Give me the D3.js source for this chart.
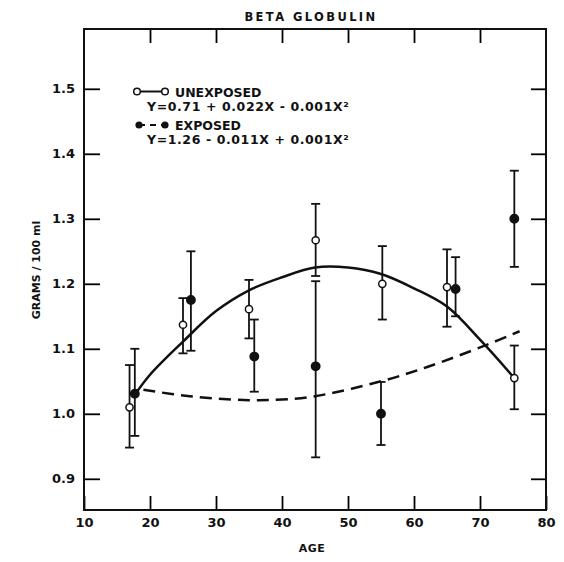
<!DOCTYPE html>
<html>
<head>
<meta charset="utf-8">
<script src="https://cdn.jsdelivr.net/npm/d3@7"></script>
<style>
  body { margin: 0; background: #fff; }
  svg text { font-family: "DejaVu Sans", sans-serif; font-weight: bold; fill: #111; }
</style>
</head>
<body>
<svg id="chart"></svg>
<script>
// Chart size and the plot box

const width = 564;
const height = 562;
const margin = { top: 29, right: 18, bottom: 52, left: 84 };

// Tick values

const xTicks = [10, 20, 30, 40, 50, 60, 70, 80];
const yTicks = [0.9, 1.0, 1.1, 1.2, 1.3, 1.4, 1.5];

// Unexposed group: age, mean, error bar ends

const ageUnexposed = [16.9, 25.0, 35.0, 45.1, 55.2, 65.0, 75.2];
const meanUnexposed = [1.010, 1.137, 1.161, 1.267, 1.200, 1.195, 1.055];
const hiUnexposed = [1.075, 1.178, 1.206, 1.323, 1.258, 1.253, 1.105];
const loUnexposed = [0.948, 1.093, 1.116, 1.212, 1.145, 1.134, 1.007];

// Exposed group

const ageExposed = [17.7, 26.2, 35.8, 45.1, 55.0, 66.3, 75.2];
const meanExposed = [1.031, 1.175, 1.088, 1.073, 1.000, 1.192, 1.300];
const hiExposed = [1.100, 1.250, 1.145, 1.204, 1.049, 1.241, 1.374];
const loExposed = [0.966, 1.097, 1.034, 0.933, 0.952, 1.150, 1.226];

// Fitted curves as drawn

const fitAgeUnexposed = [17.4, 20, 25, 30, 35, 40, 45, 50, 55, 60, 65, 70, 75.2];
const fitUnexposed = [1.025, 1.060, 1.111, 1.158, 1.190, 1.210, 1.225, 1.225, 1.215, 1.193, 1.165, 1.114, 1.055];

const fitAgeExposed = [19, 26, 35, 40, 45, 55, 62, 71, 76];
const fitExposed = [1.037, 1.027, 1.021, 1.022, 1.027, 1.050, 1.072, 1.106, 1.127];

// Scales

const x = d3.scaleLinear().domain([10, 80]).range([margin.left, width - margin.right]);
const y = d3.scaleLinear().domain([0.852, 1.592]).range([height - margin.bottom, margin.top]);

const svg = d3.select("#chart")
  .attr("width", width)
  .attr("height", height);

// Axes (ticks point inward)

svg.append("g")
  .attr("transform", "translate(0," + (height - margin.bottom) + ")")
  .call(d3.axisBottom(x).tickValues(xTicks).tickSize(-14).tickPadding(8).tickFormat(d3.format("d")))
  .call(g => g.select(".domain").remove())
  .call(g => g.selectAll("line").attr("stroke-width", 1.8))
  .call(g => g.selectAll("text").style("font-size", "13px"));

svg.append("g")
  .attr("transform", "translate(0," + margin.top + ")")
  .call(d3.axisTop(x).tickValues(xTicks.slice(1, -1)).tickSize(-14).tickFormat(""))
  .call(g => g.select(".domain").remove())
  .call(g => g.selectAll("line").attr("stroke-width", 1.8));

svg.append("g")
  .attr("transform", "translate(" + margin.left + ",0)")
  .call(d3.axisLeft(y).tickValues(yTicks).tickSize(-16).tickPadding(9).tickFormat(d3.format(".1f")))
  .call(g => g.select(".domain").remove())
  .call(g => g.selectAll("line").attr("stroke-width", 1.8))
  .call(g => g.selectAll("text").style("font-size", "13px"));

svg.append("g")
  .attr("transform", "translate(" + (width - margin.right) + ",0)")
  .call(d3.axisRight(y).tickValues(yTicks).tickSize(-15).tickFormat(""))
  .call(g => g.select(".domain").remove())
  .call(g => g.selectAll("line").attr("stroke-width", 1.8));

// Plot frame

svg.append("rect")
  .attr("x", margin.left)
  .attr("y", margin.top)
  .attr("width", width - margin.left - margin.right)
  .attr("height", height - margin.top - margin.bottom)
  .attr("fill", "none")
  .attr("stroke", "#111")
  .attr("stroke-width", 2);

// Titles

svg.append("text")
  .attr("x", 311)
  .attr("y", 21)
  .attr("text-anchor", "middle")
  .style("font-size", "11.5px")
  .style("letter-spacing", "2.4px")
  .text("BETA GLOBULIN");

svg.append("text")
  .attr("x", 312)
  .attr("y", 552)
  .attr("text-anchor", "middle")
  .style("font-size", "11px")
  .style("letter-spacing", "0.5px")
  .text("AGE");

svg.append("text")
  .attr("transform", "translate(40,270) rotate(-90)")
  .attr("text-anchor", "middle")
  .style("font-size", "11px")
  .text("GRAMS / 100 ml");

// Fitted curves

const line = d3.line()
  .x(d => x(d[0]))
  .y(d => y(d[1]))
  .curve(d3.curveCatmullRom);

svg.append("path")
  .datum(d3.zip(fitAgeExposed, fitExposed))
  .attr("d", line)
  .attr("fill", "none")
  .attr("stroke", "#111")
  .attr("stroke-width", 2.5)
  .attr("stroke-dasharray", "12,7");

svg.append("path")
  .datum(d3.zip(fitAgeUnexposed, fitUnexposed))
  .attr("d", line)
  .attr("fill", "none")
  .attr("stroke", "#111")
  .attr("stroke-width", 2.5);

// Error bars and points

function drawGroup(ages, means, his, los, filled) {
  const data = ages.map((a, i) => ({ age: a, mean: means[i], hi: his[i], lo: los[i] }));
  const g = svg.append("g");

  g.selectAll(".bar")
    .data(data)
    .enter()
    .append("line")
    .attr("x1", d => x(d.age))
    .attr("x2", d => x(d.age))
    .attr("y1", d => y(d.hi))
    .attr("y2", d => y(d.lo))
    .attr("stroke", "#111")
    .attr("stroke-width", 1.8);

  ["hi", "lo"].forEach(k => {
    g.selectAll(".cap-" + k)
      .data(data)
      .enter()
      .append("line")
      .attr("x1", d => x(d.age) - 4.5)
      .attr("x2", d => x(d.age) + 4.5)
      .attr("y1", d => y(d[k]))
      .attr("y2", d => y(d[k]))
      .attr("stroke", "#111")
      .attr("stroke-width", 1.8);
  });

  g.selectAll("circle")
    .data(data)
    .enter()
    .append("circle")
    .attr("cx", d => x(d.age))
    .attr("cy", d => y(d.mean))
    .attr("r", filled ? 4.2 : 3.6)
    .attr("fill", filled ? "#111" : "#fff")
    .attr("stroke", "#111")
    .attr("stroke-width", 1.5);
}

drawGroup(ageUnexposed, meanUnexposed, hiUnexposed, loUnexposed, false);
drawGroup(ageExposed, meanExposed, hiExposed, loExposed, true);

// Legend

const legend = svg.append("g");

legend.append("line")
  .attr("x1", 137).attr("x2", 165).attr("y1", 91.5).attr("y2", 91.5)
  .attr("stroke", "#111").attr("stroke-width", 2);
legend.selectAll(".lo")
  .data([137, 165])
  .enter()
  .append("circle")
  .attr("cx", d => d).attr("cy", 91.5).attr("r", 3.3)
  .attr("fill", "#fff").attr("stroke", "#111").attr("stroke-width", 1.5);

legend.append("line")
  .attr("x1", 139).attr("x2", 165).attr("y1", 125).attr("y2", 125)
  .attr("stroke", "#111").attr("stroke-width", 2.2)
  .attr("stroke-dasharray", "6,5");
legend.selectAll(".le")
  .data([139, 165])
  .enter()
  .append("circle")
  .attr("cx", d => d).attr("cy", 125).attr("r", 3.6)
  .attr("fill", "#111");

const legendText = [
  { x: 175, y: 97, t: "UNEXPOSED", ls: 0 },
  { x: 147, y: 111, t: "Y=0.71 + 0.022X - 0.001X²", ls: 0.6 },
  { x: 175, y: 130, t: "EXPOSED", ls: 0 },
  { x: 147, y: 144, t: "Y=1.26 - 0.011X + 0.001X²", ls: 0.6 }
];

legend.selectAll("text")
  .data(legendText)
  .enter()
  .append("text")
  .attr("x", d => d.x)
  .attr("y", d => d.y)
  .style("font-size", "12.5px")
  .style("letter-spacing", d => d.ls + "px")
  .text(d => d.t);
</script>
</body>
</html>
